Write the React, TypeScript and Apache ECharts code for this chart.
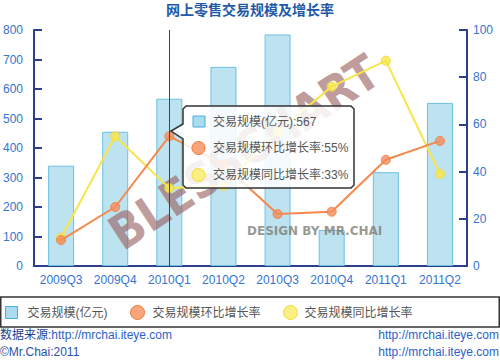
import React, { useEffect, useRef } from "react";
import * as echarts from "echarts";

const categories = ["2009Q3", "2009Q4", "2010Q1", "2010Q2", "2010Q3", "2010Q4", "2011Q1", "2011Q2"];
const volume = [340, 455, 567, 675, 785, 122, 318, 553];
const qoqGrowth = [11, 25, 55, 43, 22, 23, 45, 53];
const yoyGrowth = [12, 55, 33, 34, 57, 76, 87, 39];
const seriesNames = ["交易规模(亿元)", "交易规模环比增长率", "交易规模同比增长率"];
const leftTicks = { min: 0, max: 800, interval: 100 };
const rightTicks = { min: 0, max: 100, interval: 20 };
const highlightIndex = 2;

const FONT = '"Liberation Sans", Arial, "Noto Sans CJK SC", sans-serif';
const AXIS = "#2b3f8c";
const LABEL = "#3474cf";
const BAR_FILL = "#bde3f1";
const BAR_BORDER = "#6cc1e2";
const ORANGE = "#f5894b";
const YELLOW = "#f7e54a";

export default function App() {
  const ref = useRef<HTMLDivElement>(null);
  useEffect(() => {
    if (!ref.current) return;
    const chart = echarts.init(ref.current, undefined, { renderer: "svg" });
    const legendBase = {
      top: 306,
      padding: 0,
      selectedMode: false,
      textStyle: { fontSize: 12, color: "#555", fontFamily: FONT },
    };
    const option: any = {
      animation: false,
      backgroundColor: "#fff",
      textStyle: { fontFamily: FONT },
      title: {
        text: "网上零售交易规模及增长率",
        left: "center",
        top: 3,
        padding: 0,
        textStyle: { fontSize: 14, fontWeight: "bold", color: "#1e5aa8", fontFamily: FONT },
      },
      grid: { left: 34, right: 33, top: 30, bottom: 94 },
      legend: [
        {
          ...legendBase,
          left: 5,
          itemWidth: 12,
          itemHeight: 12,
          formatter: (n: string) => "{s|}" + n,
          textStyle: { ...legendBase.textStyle, rich: { s: { width: 5 } } },
          data: [{ name: seriesNames[0], icon: "rect", itemStyle: { color: "#a9dcef", borderColor: "#47aee0", borderWidth: 1 } }],
        },
        {
          ...legendBase,
          left: 130,
          top: 305,
          itemWidth: 14,
          itemHeight: 14,
          formatter: (n: string) => "{s|}" + n,
          textStyle: { ...legendBase.textStyle, rich: { s: { width: 3 } } },
          data: [{ name: seriesNames[1], icon: "circle", itemStyle: { color: "#f9a57c", borderColor: "#f07a3c", borderWidth: 1 } }],
        },
        {
          ...legendBase,
          left: 283,
          top: 305,
          itemWidth: 14,
          itemHeight: 14,
          formatter: (n: string) => "{s|}" + n,
          textStyle: { ...legendBase.textStyle, rich: { s: { width: 2 } } },
          data: [{ name: seriesNames[2], icon: "circle", itemStyle: { color: "#f9ef84", borderColor: "#f2df34", borderWidth: 1 } }],
        },
      ],
      xAxis: {
        type: "category",
        data: categories,
        boundaryGap: true,
        axisLine: { lineStyle: { color: AXIS, width: 2 } },
        axisTick: { inside: true, length: 5, lineStyle: { color: AXIS, width: 2 } },
        axisLabel: { color: LABEL, fontSize: 12, margin: 8, interval: 0, fontFamily: FONT },
        splitLine: { show: false },
      },
      yAxis: [
        {
          type: "value",
          ...leftTicks,
          position: "left",
          axisLine: { show: true, lineStyle: { color: AXIS, width: 2 } },
          axisTick: { show: true, inside: true, length: 8, lineStyle: { color: AXIS, width: 2 } },
          axisLabel: { color: LABEL, fontSize: 12, margin: 11, fontFamily: FONT },
          splitLine: { show: false },
        },
        {
          type: "value",
          ...rightTicks,
          position: "right",
          axisLine: { show: true, lineStyle: { color: AXIS, width: 2 } },
          axisTick: { show: true, inside: true, length: 8, lineStyle: { color: AXIS, width: 2 } },
          axisLabel: { color: LABEL, fontSize: 12, margin: 6, fontFamily: FONT },
          splitLine: { show: false },
        },
      ],
      series: [
        {
          name: seriesNames[0],
          type: "bar",
          data: volume,
          barWidth: 26,
          z: 2,
          itemStyle: { color: BAR_FILL, borderColor: BAR_BORDER, borderWidth: 1 },
          markLine: {
            silent: true,
            symbol: ["none", "none"],
            label: { show: false },
            lineStyle: { color: AXIS, width: 1, type: "solid" },
            data: [{ xAxis: categories[highlightIndex] }],
          },
        },
        {
          name: seriesNames[1],
          type: "line",
          yAxisIndex: 1,
          data: qoqGrowth,
          z: 4,
          symbol: "circle",
          symbolSize: 9,
          lineStyle: { color: ORANGE, width: 2 },
          itemStyle: { color: "rgba(244,140,95,0.8)", borderColor: "#f0874a", borderWidth: 1 },
        },
        {
          name: seriesNames[2],
          type: "line",
          yAxisIndex: 1,
          data: yoyGrowth,
          z: 3,
          symbol: "circle",
          symbolSize: 9,
          lineStyle: { color: YELLOW, width: 2 },
          itemStyle: { color: "rgba(247,230,80,0.85)", borderColor: "#f3dc3a", borderWidth: 1 },
        },
      ],
      graphic: [
        {
          type: "text",
          x: 244,
          y: 152,
          rotation: 0.58,
          z: 2.5,
          silent: true,
          style: {
            text: "BLESSCHART",
            align: "center",
            verticalAlign: "middle",
            fontSize: 48,
            fontWeight: "bold",
            fontFamily: '"DejaVu Sans Condensed", sans-serif',
            fill: "rgba(150,90,90,0.6)",
          },
        },
        {
          type: "text",
          x: 247,
          y: 231,
          z: 2.5,
          silent: true,
          style: {
            text: "DESIGN BY MR.CHAI",
            align: "left",
            verticalAlign: "middle",
            fontSize: 12,
            fontWeight: "bold",
            fontFamily: '"DejaVu Sans", sans-serif',
            fill: "rgba(120,120,110,0.75)",
          },
        },
        {
          type: "rect",
          z: 10,
          silent: true,
          shape: { x: 0.75, y: 297, width: 498.5, height: 30 },
          style: { fill: "none", stroke: "#333", lineWidth: 1.5 },
        },
        {
          type: "text",
          x: 0,
          y: 335,
          z: 10,
          style: {
            text: "{a|数据来源:}{b|http://mrchai.iteye.com}",
            verticalAlign: "middle",
            rich: {
              a: { fontSize: 12, fill: "#1d3f94", fontFamily: FONT },
              b: { fontSize: 12, fill: "#2d62c8", fontFamily: FONT },
            },
          },
        },
        {
          type: "text",
          x: 0,
          y: 352,
          z: 10,
          style: { text: "©Mr.Chai:2011", verticalAlign: "middle", fontSize: 12, fill: "#2d4fa8", fontFamily: FONT },
        },
        {
          type: "text",
          x: 499,
          y: 335,
          z: 10,
          style: { text: "http://mrchai.iteye.com", align: "right", verticalAlign: "middle", fontSize: 12, fill: "#2d62c8", fontFamily: FONT },
        },
        {
          type: "text",
          x: 499,
          y: 352,
          z: 10,
          style: { text: "http://mrchai.iteye.com", align: "right", verticalAlign: "middle", fontSize: 12, fill: "#2d62c8", fontFamily: FONT },
        },
        {
          type: "group",
          z: 20,
          silent: true,
          children: [
            {
              type: "polygon",
              z: 20,
              shape: {
                points: [
                  [186, 106], [351, 106], [354, 109], [354, 185], [351, 188], [186, 188], [183, 185],
                  [183, 139], [171, 131], [183, 124], [183, 109],
                ],
              },
              style: { fill: "rgba(255,255,255,0.85)", stroke: "#333", lineWidth: 1.5 },
            },
            {
              type: "rect",
              z: 21,
              shape: { x: 193, y: 116, width: 12, height: 11 },
              style: { fill: "#a9dcef", stroke: "#47aee0", lineWidth: 1 },
            },
            {
              type: "circle",
              z: 21,
              shape: { cx: 198.5, cy: 148, r: 6.5 },
              style: { fill: "#f9a57c", stroke: "#f07a3c", lineWidth: 1 },
            },
            {
              type: "circle",
              z: 21,
              shape: { cx: 198.5, cy: 175, r: 6.5 },
              style: { fill: "#f9ef84", stroke: "#f2df34", lineWidth: 1 },
            },
            {
              type: "text",
              z: 21,
              x: 213,
              y: 122,
              style: { text: `${seriesNames[0]}:${volume[highlightIndex]}`, verticalAlign: "middle", fontSize: 12, fill: "#555", fontFamily: FONT },
            },
            {
              type: "text",
              z: 21,
              x: 213,
              y: 148,
              style: { text: `${seriesNames[1]}:${qoqGrowth[highlightIndex]}%`, verticalAlign: "middle", fontSize: 12, fill: "#555", fontFamily: FONT },
            },
            {
              type: "text",
              z: 21,
              x: 213,
              y: 175,
              style: { text: `${seriesNames[2]}:${yoyGrowth[highlightIndex]}%`, verticalAlign: "middle", fontSize: 12, fill: "#555", fontFamily: FONT },
            },
          ],
        },
      ],
    };
    chart.setOption(option);
    return () => chart.dispose();
  }, []);
  return <div ref={ref} style={{ position: "absolute", left: 0, top: 0, width: 500, height: 360 }} />;
}
